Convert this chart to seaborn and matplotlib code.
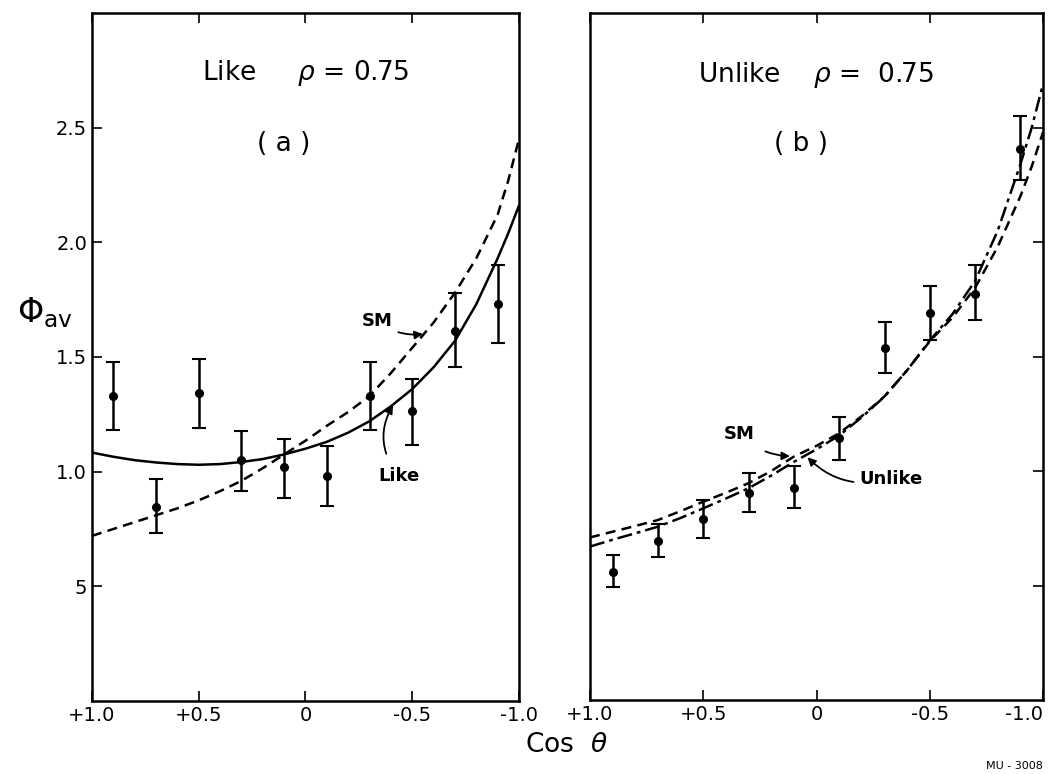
import matplotlib
matplotlib.use('Agg')
import matplotlib.pyplot as plt
import seaborn as sns
import numpy as np

# measured angular points (cos theta)
cos_pts = [0.9, 0.7, 0.5, 0.3, 0.1, -0.1, -0.3, -0.5, -0.7, -0.9]

# panel (a) - like
like_phi = [1.33, 0.845, 1.345, 1.05, 1.02, 0.98, 1.33, 1.265, 1.615, 1.73]
like_hi = [1.48, 0.967, 1.493, 1.177, 1.144, 1.11, 1.48, 1.405, 1.78, 1.90]
like_lo = [1.183, 0.734, 1.192, 0.916, 0.885, 0.85, 1.18, 1.115, 1.457, 1.56]

# panel (b) - unlike
unlike_phi = [0.56, 0.696, 0.79, 0.903, 0.925, 1.144, 1.537, 1.69, 1.775, 2.406]
unlike_hi = [0.633, 0.769, 0.874, 0.993, 1.02, 1.234, 1.65, 1.81, 1.90, 2.55]
unlike_lo = [0.495, 0.623, 0.706, 0.819, 0.837, 1.049, 1.428, 1.571, 1.659, 2.27]

# theory curves
cos_curve = [1.0, 0.9, 0.8, 0.7, 0.6, 0.5, 0.4, 0.3, 0.2, 0.1, 0.0,
             -0.1, -0.2, -0.3, -0.4, -0.5, -0.6, -0.7, -0.8, -0.9, -0.95, -1.0]
like_fit = [1.083, 1.065, 1.05, 1.04, 1.033, 1.03, 1.033, 1.042, 1.055, 1.075, 1.10,
            1.13, 1.17, 1.22, 1.285, 1.36, 1.455, 1.57, 1.73, 1.93, 2.04, 2.16]
sm_a = [0.72, 0.75, 0.78, 0.81, 0.84, 0.875, 0.915, 0.96, 1.015, 1.075, 1.135,
        1.20, 1.26, 1.33, 1.43, 1.54, 1.65, 1.78, 1.93, 2.12, 2.27, 2.45]
sm_b = [0.71, 0.735, 0.76, 0.786, 0.825, 0.866, 0.905, 0.947, 1.00, 1.063, 1.11,
        1.165, 1.24, 1.326, 1.44, 1.567, 1.67, 1.80, 1.98, 2.20, 2.33, 2.48]
unlike_fit = [0.67, 0.70, 0.728, 0.757, 0.795, 0.837, 0.88, 0.925, 0.98, 1.04, 1.095,
              1.155, 1.235, 1.325, 1.44, 1.57, 1.685, 1.83, 2.05, 2.34, 2.50, 2.69]

xticks = [1.0, 0.5, 0.0, -0.5, -1.0]
xticklabels = ['+1.0', '+0.5', '0', '-0.5', '-1.0']
yticks = [0.5, 1.0, 1.5, 2.0, 2.5]
yticklabels = ['5', '1.0', '1.5', '2.0', '2.5']

sns.set_style('ticks')
plt.rcParams['font.family'] = ['DejaVu Sans']
plt.rcParams['mathtext.fontset'] = 'dejavusans'
plt.rcParams['text.color'] = 'black'
plt.rcParams['xtick.color'] = 'black'
plt.rcParams['ytick.color'] = 'black'
plt.rcParams['axes.labelcolor'] = 'black'

fig = plt.figure(figsize=(10.48, 7.74), dpi=100)
ax1 = fig.add_axes([0.0878, 0.0943, 0.4074, 0.889])
ax2 = fig.add_axes([0.563, 0.0956, 0.4323, 0.8876])


def errbars(ax, phi, hi, lo):
    phi = np.array(phi)
    yerr = [phi - np.array(lo), np.array(hi) - phi]
    ax.errorbar(cos_pts, phi, yerr=yerr, fmt='o', color='black', ms=5.5,
                capsize=5, elinewidth=1.8, capthick=1.5, zorder=3)


def style_axes(ax, side):
    ax.set_xlim(1.0, -1.0)
    ax.set_ylim(0, 3.0)
    ax.set_xticks(xticks)
    ax.set_xticklabels(xticklabels)
    ax.set_yticks(yticks)
    for s in ax.spines.values():
        s.set_visible(True)
        s.set_linewidth(1.8)
        s.set_color('black')
    ax.tick_params(axis='both', direction='in', length=7, width=1.2,
                   top=True, labelsize=14, colors='black', labelcolor='black')
    if side == 'left':
        ax.set_yticklabels(yticklabels)
        ax.tick_params(axis='y', left=True, right=False)
    else:
        ax.tick_params(axis='y', left=False, right=True,
                       labelleft=False, labelright=False)
        ax.get_xticklabels()[-1].set_horizontalalignment('right')
    ax.set_xlabel('')
    ax.set_ylabel('')


# panel (a)
sns.lineplot(x=cos_curve, y=sm_a, ax=ax1, color='black', lw=1.8,
             linestyle=(0, (4, 2.5)), sort=False)
sns.lineplot(x=cos_curve, y=like_fit, ax=ax1, color='black', lw=1.8, sort=False)
errbars(ax1, like_phi, like_hi, like_lo)
style_axes(ax1, 'left')
ax1.text(0.0, 2.74, 'Like     $\\rho$ = 0.75', ha='center', va='center', fontsize=19)
ax1.text(0.1, 2.43, '( a )', ha='center', va='center', fontsize=19)
ax1.annotate('SM', xy=(-0.55, 1.60), xytext=(-0.335, 1.655), fontsize=13,
             fontweight='bold', ha='center', va='center',
             arrowprops=dict(arrowstyle='-|>', color='black', lw=1.3,
                             connectionstyle='arc3,rad=0.2', mutation_scale=12,
                             shrinkA=2, shrinkB=0))
ax1.annotate('Like', xy=(-0.41, 1.29), xytext=(-0.44, 0.98), fontsize=13,
             fontweight='bold', ha='center', va='center',
             arrowprops=dict(arrowstyle='-|>', color='black', lw=1.3,
                             connectionstyle='arc3,rad=-0.35', mutation_scale=12,
                             shrinkA=8, shrinkB=0))

# panel (b)
sns.lineplot(x=cos_curve, y=sm_b, ax=ax2, color='black', lw=1.8,
             linestyle=(0, (4, 2.5)), sort=False)
sns.lineplot(x=cos_curve, y=unlike_fit, ax=ax2, color='black', lw=1.8,
             linestyle=(0, (6, 2, 1.5, 2)), sort=False)
errbars(ax2, unlike_phi, unlike_hi, unlike_lo)
style_axes(ax2, 'right')
ax2.text(0.0, 2.73, 'Unlike    $\\rho$ =  0.75', ha='center', va='center', fontsize=19)
ax2.text(0.07, 2.43, '( b )', ha='center', va='center', fontsize=19)
ax2.annotate('SM', xy=(0.117, 1.065), xytext=(0.34, 1.16), fontsize=13,
             fontweight='bold', ha='center', va='center',
             arrowprops=dict(arrowstyle='-|>', color='black', lw=1.3,
                             connectionstyle='arc3,rad=0.2', mutation_scale=12,
                             shrinkA=8, shrinkB=0))
ax2.annotate('Unlike', xy=(0.04, 1.06), xytext=(-0.19, 0.967), fontsize=13,
             fontweight='bold', ha='left', va='center',
             arrowprops=dict(arrowstyle='-|>', color='black', lw=1.3,
                             connectionstyle='arc3,rad=-0.3', mutation_scale=12,
                             shrinkA=2, shrinkB=0))

fig.text(0.043, 0.596, '$\\Phi_{\\mathrm{av}}$', ha='center', va='center', fontsize=24)
fig.text(0.54, 0.037, 'Cos  $\\theta$', ha='center', va='center', fontsize=19)
fig.text(0.995, 0.004, 'MU - 3008', ha='right', va='bottom', fontsize=8)

fig.savefig('out.png', dpi=100)
